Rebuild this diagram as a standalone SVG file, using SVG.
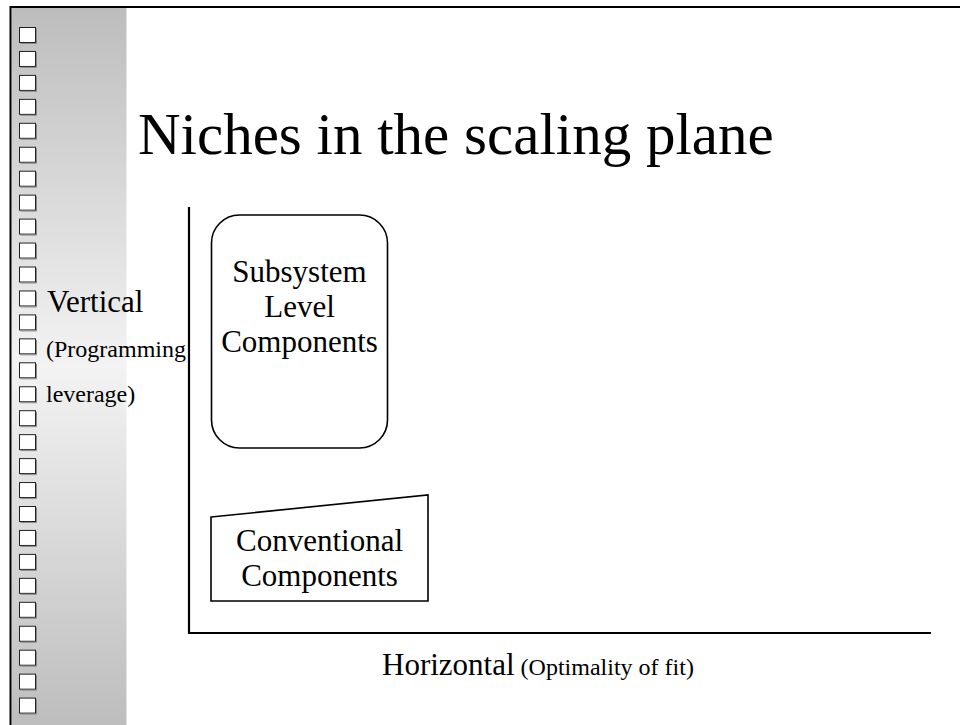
<svg xmlns="http://www.w3.org/2000/svg" xmlns:xlink="http://www.w3.org/1999/xlink" width="960" height="725" viewBox="0 0 960 725">
<defs>
<linearGradient id="strip" x1="0" y1="0" x2="0" y2="1">
<stop offset="0" stop-color="#bdbdbd"/>
<stop offset="0.5" stop-color="#f3f3f3"/>
<stop offset="1" stop-color="#bdbdbd"/>
</linearGradient>
<g id="cb">
<rect x="19.5" y="0.5" width="16" height="15" fill="#ffffff" stroke="#222222" stroke-width="1"/>
<path d="M36.5 1.5 V16.5 H20.5" fill="none" stroke="#8a8a8a" stroke-width="1"/>
</g>
</defs>
<style>
text{font-family:"Liberation Serif","Times New Roman",serif;fill:#000000}
.big{font-size:31px}
.small{font-size:24px}
.title{font-size:59px}
.mid{text-anchor:middle}
.shape{fill:#ffffff;stroke:#000000;stroke-width:1.6}
.axis{stroke:#000000;stroke-width:2.2;fill:none}
</style>
<rect width="960" height="725" fill="#ffffff"/>
<g id="frame">
<rect x="11.5" y="8" width="115" height="717" fill="url(#strip)"/>
<path d="M10.5 725 V7 H960" fill="none" stroke="#000000" stroke-width="2"/>
</g>
<g id="bullets">
<use xlink:href="#cb" y="27"/>
<use xlink:href="#cb" y="50.95"/>
<use xlink:href="#cb" y="74.9"/>
<use xlink:href="#cb" y="98.85"/>
<use xlink:href="#cb" y="122.8"/>
<use xlink:href="#cb" y="146.75"/>
<use xlink:href="#cb" y="170.7"/>
<use xlink:href="#cb" y="194.65"/>
<use xlink:href="#cb" y="218.6"/>
<use xlink:href="#cb" y="242.55"/>
<use xlink:href="#cb" y="266.5"/>
<use xlink:href="#cb" y="290.45"/>
<use xlink:href="#cb" y="314.4"/>
<use xlink:href="#cb" y="338.35"/>
<use xlink:href="#cb" y="362.3"/>
<use xlink:href="#cb" y="386.25"/>
<use xlink:href="#cb" y="410.2"/>
<use xlink:href="#cb" y="434.15"/>
<use xlink:href="#cb" y="458.1"/>
<use xlink:href="#cb" y="482.05"/>
<use xlink:href="#cb" y="506"/>
<use xlink:href="#cb" y="529.95"/>
<use xlink:href="#cb" y="553.9"/>
<use xlink:href="#cb" y="577.85"/>
<use xlink:href="#cb" y="601.8"/>
<use xlink:href="#cb" y="625.75"/>
<use xlink:href="#cb" y="649.7"/>
<use xlink:href="#cb" y="673.65"/>
<use xlink:href="#cb" y="697.6"/>
</g>
<g id="title">
<text class="title" x="138" y="154">Niches in the scaling plane</text>
</g>
<g id="vertical-label">
<text class="big" x="47" y="312">Vertical</text>
<text class="small" x="46" y="357">(Programming</text>
<text class="small" x="46" y="402">leverage)</text>
</g>
<g id="connectors">
<path class="axis" d="M189 207 V633 H931"/>
</g>
<g id="subsystem">
<rect class="shape" x="211.5" y="215" width="176" height="233" rx="28" ry="28"/>
<text class="big mid" x="299.5" y="282">Subsystem</text>
<text class="big mid" x="299.5" y="317">Level</text>
<text class="big mid" x="299.5" y="352">Components</text>
</g>
<g id="conventional">
<polygon class="shape" points="211,517 428,495 428,601 211,601"/>
<text class="big mid" x="319.5" y="551">Conventional</text>
<text class="big mid" x="319.5" y="586">Components</text>
</g>
<g id="horizontal-label">
<text x="382" y="675"><tspan class="big">Horizontal</tspan><tspan class="small"> (Optimality of fit)</tspan></text>
</g>
</svg>
